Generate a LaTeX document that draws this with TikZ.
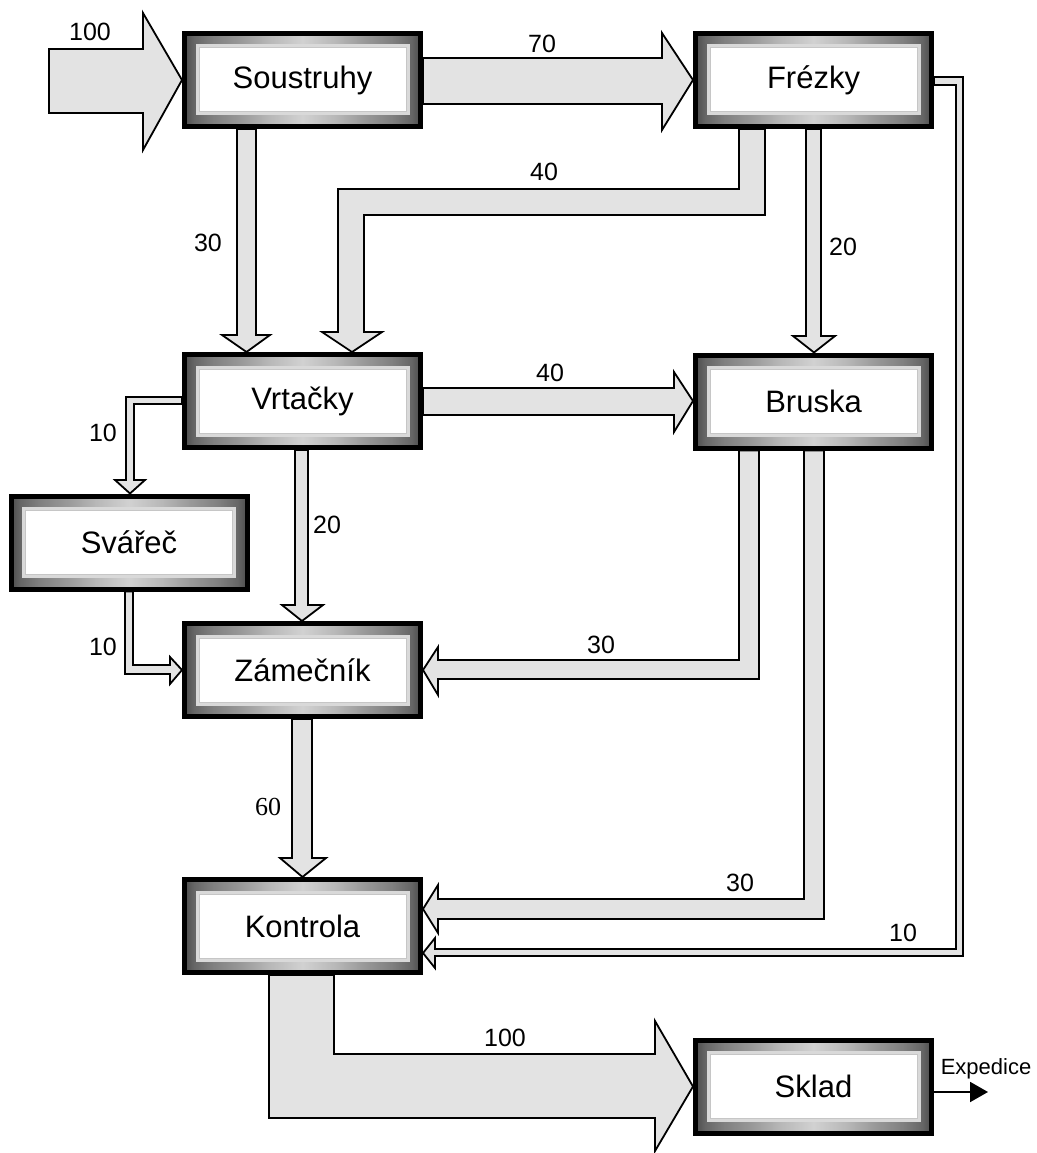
\documentclass[tikz,border=0pt]{standalone}
\usepackage{fontspec}
\setmainfont{Liberation Sans}
\newfontfamily\serifnum{Liberation Serif}
\usetikzlibrary{arrows.meta,calc}
\pgfdeclarelayer{bg}
\pgfsetlayers{bg,main}
\definecolor{arrowfill}{gray}{0.89}
\definecolor{ga}{gray}{0.30}
\definecolor{gb}{gray}{0.40}
\definecolor{gc}{gray}{0.50}
\definecolor{gd}{gray}{0.60}
\definecolor{ge}{gray}{0.72}
\definecolor{gf}{gray}{0.82}
\pgfdeclarehorizontalshading{frameshade}{100bp}{color(0bp)=(ga); color(25bp)=(ga); color(27bp)=(gb); color(31bp)=(gc); color(37bp)=(gd); color(43bp)=(ge); color(50bp)=(gf); color(57bp)=(ge); color(63bp)=(gd); color(69bp)=(gc); color(73bp)=(gb); color(75bp)=(ga); color(100bp)=(ga)}
\begin{document}
\begin{tikzpicture}[x=1pt,y=-1pt,
  machine/.style={rectangle, draw=black, line width=5pt, minimum width=236pt, minimum height=93pt, inner sep=0pt, shading=frameshade,
    font=\fontsize{31}{36}\selectfont,
    path picture={\draw[gray!30, line width=3pt] ([xshift=12.5pt,yshift=-12.5pt]path picture bounding box.north west) rectangle ([xshift=-12.5pt,yshift=12.5pt]path picture bounding box.south east);
      \fill[white, draw=gray!45, line width=1pt] ([xshift=14.5pt,yshift=-14.5pt]path picture bounding box.north west) rectangle ([xshift=-14.5pt,yshift=14.5pt]path picture bounding box.south east);}},
  flow/.style={fill=arrowfill, draw=black, line width=1.8pt, line join=miter},
  thinflow/.style={fill=arrowfill, draw=black, line width=1.8pt, line join=miter},
  lbl/.style={font=\fontsize{25}{30}\selectfont, inner sep=0pt}]
\useasboundingbox (0,0) rectangle (1036,1153);

% machines
\node[machine] (sou) at (302.5,80) {Soustruhy};
\node[machine] (fre) at (813.5,80) {Frézky};
\node[machine] (vrt) at (302.5,401) {Vrtačky};
\node[machine] (bru) at (813.5,401.5) {Bruska};
\node[machine] (sva) at (129,542.5) {Svářeč};
\node[machine] (zam) at (302.5,670) {Zámečník};
\node[machine] (kon) at (302.5,926) {Kontrola};
\node[machine] (skl) at (813.5,1086.5) {Sklad};
\coordinate (inp) at (49,81);
\coordinate (exp) at (988,1092);

\begin{pgfonlayer}{bg}
% input 100
\draw[flow] (inp |- 0,49) -- (143,49) -- (143,13) -- (sou.west) -- (143,150) -- (143,113) -- (inp |- 0,113) -- cycle;
% Soustruhy -> Frezky 70
\draw[flow] (sou.east |- 0,58) -- (662,58) -- (662,33) -- (fre.west) -- (662,130) -- (662,104) -- (sou.east |- 0,104) -- cycle;
% Soustruhy -> Vrtacky 30
\draw[flow] (237,0 |- sou.south) -- (237,335) -- (222,335) -- (246.5,0 |- vrt.north) -- (270,335) -- (256,335) -- (256,0 |- sou.south) -- cycle;
% Frezky -> Vrtacky 40
\draw[flow] (739,0 |- fre.south) -- (739,189) -- (338,189) -- (338,332) -- (322,332) -- (352,0 |- vrt.north) -- (382,332) -- (364,332) -- (364,215) -- (765,215) -- (765,0 |- fre.south) -- cycle;
% Frezky -> Bruska 20
\draw[flow] (806,0 |- fre.south) -- (806,336) -- (793,336) -- (814,0 |- bru.north) -- (835,336) -- (821,336) -- (821,0 |- fre.south) -- cycle;
% Frezky -> Kontrola 10
\draw[thinflow] (fre.east |- 0,77) -- (963,77) -- (963,956) -- (435,956) -- (435,968) -- (kon.east |- 0,953) -- (435,938) -- (435,949) -- (956,949) -- (956,85) -- (fre.east |- 0,85) -- cycle;
% Vrtacky -> Bruska 40
\draw[flow] (vrt.east |- 0,388) -- (674,388) -- (674,372) -- (bru.west |- 0,401) -- (674,432) -- (674,415) -- (vrt.east |- 0,415) -- cycle;
% Vrtacky -> Svarec 10
\draw[thinflow] (vrt.west |- 0,397) -- (126,397) -- (126,480) -- (115,480) -- (130,0 |- sva.north) -- (145,480) -- (134,480) -- (134,404) -- (vrt.west |- 0,404) -- cycle;
% Vrtacky -> Zamecnik 20
\draw[flow] (295,0 |- vrt.south) -- (295,605) -- (282,605) -- (302,0 |- zam.north) -- (323,605) -- (308,605) -- (308,0 |- vrt.south) -- cycle;
% Svarec -> Zamecnik 10
\draw[thinflow] (125,0 |- sva.south) -- (125,674) -- (170,674) -- (170,684) -- (zam.west |- 0,670) -- (170,657) -- (170,665) -- (133,665) -- (133,0 |- sva.south) -- cycle;
% Bruska -> Zamecnik 30
\draw[flow] (739,0 |- bru.south) -- (739,660) -- (438,660) -- (438,647) -- (zam.east |- 0,670) -- (438,695) -- (438,679) -- (759,679) -- (759,0 |- bru.south) -- cycle;
% Zamecnik -> Kontrola 60
\draw[flow] (292,0 |- zam.south) -- (292,858) -- (280,858) -- (302.5,0 |- kon.north) -- (326,858) -- (312,858) -- (312,0 |- zam.south) -- cycle;
% Bruska -> Kontrola 30
\draw[flow] (804,0 |- bru.south) -- (804,899) -- (438,899) -- (438,885) -- (kon.east |- 0,909) -- (438,933) -- (438,919) -- (824,919) -- (824,0 |- bru.south) -- cycle;
% Kontrola -> Sklad 100
\draw[flow] (269,0 |- kon.south) -- (269,1118) -- (655,1118) -- (655,1151) -- (skl.west) -- (655,1021) -- (655,1054) -- (334,1054) -- (334,0 |- kon.south) -- cycle;
\end{pgfonlayer}

% Sklad -> Expedice
\draw[line width=2pt, -{Triangle[length=18pt,width=20pt]}] (skl.east |- exp) -- (exp);

% labels
\node[lbl] (l1) at (90,32) {100};
\node[lbl] (l2) at (542,44) {70};
\node[lbl] (l3) at (208,243) {30};
\node[lbl] (l4) at (544,172) {40};
\node[lbl] (l5) at (843,247) {20};
\node[lbl] (l6) at (550,373) {40};
\node[lbl] (l7) at (103,433) {10};
\node[lbl] (l8) at (327,525) {20};
\node[lbl] (l9) at (103,647) {10};
\node[lbl] (l10) at (601,645) {30};
\node[lbl, font=\serifnum\fontsize{26}{30}\selectfont] (l11) at (268,807) {60};
\node[lbl] (l12) at (740,883) {30};
\node[lbl] (l13) at (903,933) {10};
\node[lbl] (l14) at (505,1038) {100};
\node[lbl, font=\fontsize{22}{26}\selectfont] (l15) at (986,1069) {Expedice};
\end{tikzpicture}
\end{document}
